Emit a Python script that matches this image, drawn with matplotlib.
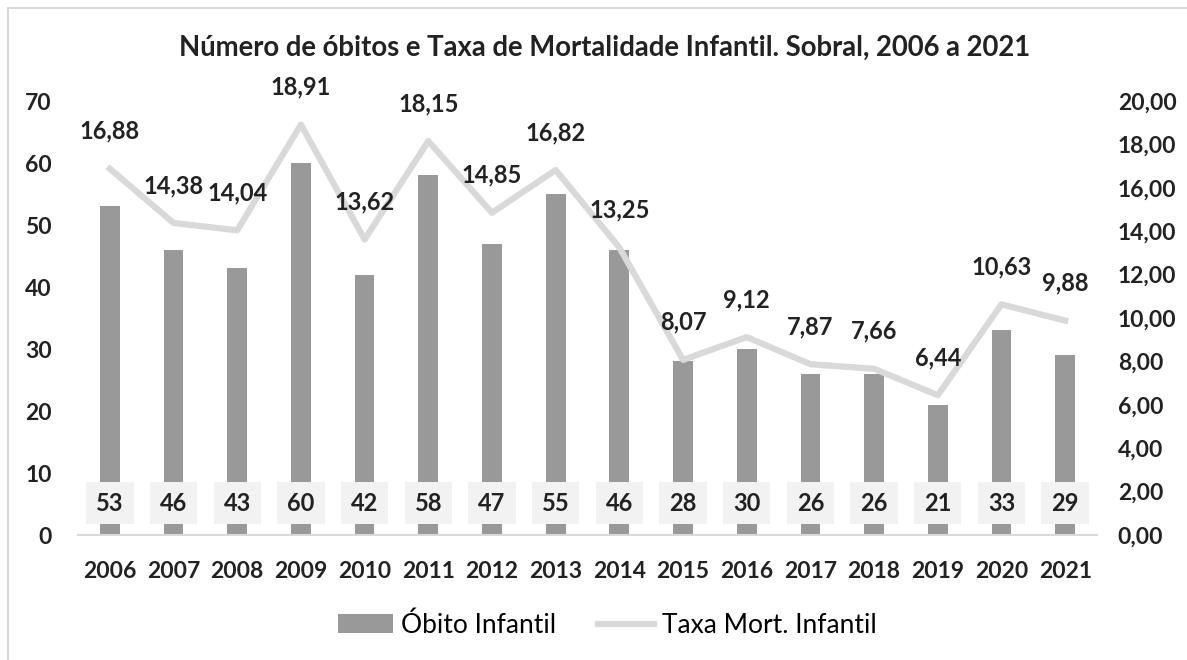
import matplotlib.pyplot as plt
from matplotlib.patches import Rectangle
from matplotlib.lines import Line2D
from matplotlib.patches import Patch

anos = ['2006', '2007', '2008', '2009', '2010', '2011', '2012', '2013',
        '2014', '2015', '2016', '2017', '2018', '2019', '2020', '2021']
obitos = [53, 46, 43, 60, 42, 58, 47, 55, 46, 28, 30, 26, 26, 21, 33, 29]
taxa = [16.88, 14.38, 14.04, 18.91, 13.62, 18.15, 14.85, 16.82,
        13.25, 8.07, 9.12, 7.87, 7.66, 6.44, 10.63, 9.88]

left_ticks = [0, 10, 20, 30, 40, 50, 60, 70]
right_ticks = [0, 2, 4, 6, 8, 10, 12, 14, 16, 18, 20]

plt.rcParams['font.family'] = ['Lato', 'DejaVu Sans']
plt.rcParams['font.weight'] = 'bold'

bar_color = '#999999'
line_color = '#d9d9d9'
txt = '#222222'
fs = 16.5

fig = plt.figure(figsize=(11.87, 6.6), dpi=100)
ax = fig.add_axes([78 / 1187, 1 - 535 / 660, (1097 - 78) / 1187, (535 - 101) / 660])

# chart border (cropped chart area)
fig.patches.append(Rectangle((8 / 1187, -0.1), 1.2, 1.1 - 8 / 660, transform=fig.transFigure,
                             fill=False, edgecolor='#d9d9d9', linewidth=1.5))

x = list(range(len(anos)))
ax.bar(x, obitos, width=0.31, color=bar_color, zorder=2)
ax.set_ylim(0, 70)
ax.set_xlim(-0.5, len(anos) - 0.5)
ax.set_yticks(left_ticks)
ax.set_xticks(x)
ax.set_xticklabels(anos)
for s in ['top', 'left', 'right']:
    ax.spines[s].set_visible(False)
ax.spines['bottom'].set_color('#d9d9d9')
ax.spines['bottom'].set_linewidth(1.5)
ax.tick_params(axis='both', length=0, labelsize=fs, colors=txt)
ax.tick_params(axis='y', pad=19)
ax.tick_params(axis='x', pad=19)

for xi, v in zip(x, obitos):
    ax.annotate(str(v), (xi, 0), xytext=(0, 23), textcoords='offset points',
                ha='center', va='center', fontsize=fs + 0.5, fontweight='bold', color=txt, zorder=5,
                bbox=dict(boxstyle='square,pad=0.42', facecolor='#f2f2f2', edgecolor='none'))

ax2 = ax.twinx()
ax2.plot(x, taxa, color=line_color, linewidth=4.5, zorder=3)
ax2.set_ylim(0, 20)
ax2.set_yticks(right_ticks)
ax2.set_yticklabels(['%d,00' % t for t in right_ticks])
for s in ['top', 'left', 'right', 'bottom']:
    ax2.spines[s].set_visible(False)
ax2.tick_params(axis='y', length=0, labelsize=fs, colors=txt, pad=15)

for xi, v in zip(x, taxa):
    ax2.annotate(('%.2f' % v).replace('.', ','), (xi, v), xytext=(0, 27),
                 textcoords='offset points', ha='center', va='center',
                 fontsize=17, fontweight='bold', color=txt)

fig.text(605 / 1187, 1 - 48 / 660,
         'Número de óbitos e Taxa de Mortalidade Infantil. Sobral, 2006 a 2021',
         ha='center', va='center', fontsize=19.8, fontweight='bold', color=txt)

handles = [Patch(facecolor=bar_color, edgecolor='none'),
           Line2D([0], [0], color=line_color, linewidth=4.5)]
fig.legend(handles, ['Óbito Infantil', 'Taxa Mort. Infantil'], loc='center',
           bbox_to_anchor=(607 / 1187, 1 - 625 / 660), ncol=2, frameon=False,
           prop={'size': 19, 'weight': 'normal'}, handlelength=2.1, handletextpad=0.3,
           columnspacing=1.6)

fig.savefig('out.png', dpi=100)
